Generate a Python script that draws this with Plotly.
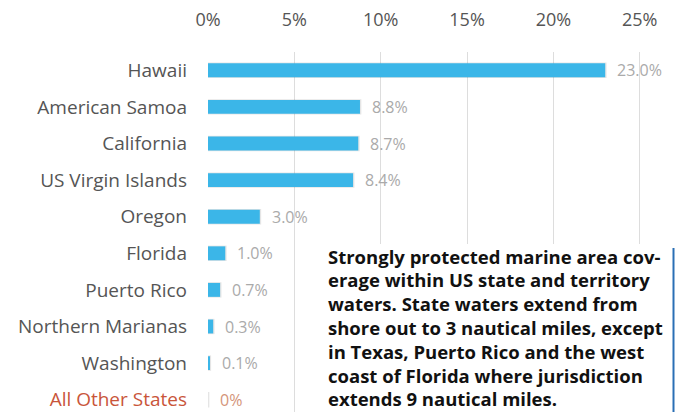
import plotly.graph_objects as go

categories = ["Hawaii", "American Samoa", "California", "US Virgin Islands", "Oregon",
              "Florida", "Puerto Rico", "Northern Marianas", "Washington", "All Other States"]
values = [23.0, 8.8, 8.7, 8.4, 3.0, 1.0, 0.7, 0.3, 0.1, 0.0]
value_labels = ["23.0%", "8.8%", "8.7%", "8.4%", "3.0%", "1.0%", "0.7%", "0.3%", "0.1%", "0%"]
tick_vals = [0, 5, 10, 15, 20, 25]
tick_text = ["0%", "5%", "10%", "15%", "20%", "25%"]
note_lines = ["Strongly protected marine area cov-",
              "erage within US state and territory",
              "waters. State waters extend from",
              "shore out to 3 nautical miles, except",
              "in Texas, Puerto Rico and the west",
              "coast of Florida where jurisdiction",
              "extends 9 nautical miles."]

BLUE = "#3bb6e8"
FONT = "Open Sans"
cat_colors = ["#555555"] * 9 + ["#c9553a"]
lab_colors = ["#aaaaaa"] * 9 + ["#d4957a"]

# page body has an 8px margin; keep the figure inside the window (no scrollbars)
OFF = 8
W, H = 683 - 2 * OFF, 420 - 2 * OFF
PLOT_TOP_PAGE = 52
ROW_PX = 36.6
PX_PER_PCT = 17.27
plot_h = H - (PLOT_TOP_PAGE - OFF)
plot_w = W - (208 - OFF)
y_top = len(categories) - 0.5
y_bottom = y_top - plot_h / ROW_PX

def paper_y(page_y):
    return 1 - (page_y - PLOT_TOP_PAGE) / plot_h

def paper_x(page_x):
    return (page_x - 208) / plot_w

fig = go.Figure()
fig.add_trace(go.Bar(y=categories, x=[v + 0.08 if v > 0 else 0.08 for v in values], orientation="h",
                     width=0.42, marker=dict(color="rgba(0,0,0,0.10)", line=dict(width=0)),
                     hoverinfo="skip", showlegend=False))
fig.add_trace(go.Bar(y=categories, x=values, orientation="h", width=0.38,
                     marker=dict(color=BLUE, line=dict(width=0)), showlegend=False))
fig.update_layout(barmode="overlay")

for c, v, t, col in zip(categories, values, value_labels, lab_colors):
    fig.add_annotation(x=v, y=c, text=t, xanchor="left", showarrow=False, xshift=10,
                       font=dict(family=FONT, size=16, color=col))

fig.add_shape(type="rect", xref="paper", yref="paper", x0=paper_x(319), x1=1,
              y0=-0.05, y1=paper_y(244),
              fillcolor="white", line=dict(width=0), layer="above")
fig.add_shape(type="line", xref="paper", yref="paper", x0=paper_x(673.5), x1=paper_x(673.5),
              y0=-0.05, y1=paper_y(248),
              line=dict(color="#2a6fb5", width=2), layer="above")
for i, line in enumerate(note_lines):
    fig.add_annotation(x=paper_x(326), xref="paper", y=paper_y(256 + 23.8 * i), yref="paper",
                       text=f"<b>{line}</b>", showarrow=False,
                       xanchor="left", yanchor="middle", align="left",
                       font=dict(family=FONT, size=18.5, color="#111111"))

fig.update_layout(
    width=W, height=H, margin=dict(l=208 - OFF, r=0, t=PLOT_TOP_PAGE - OFF, b=0),
    paper_bgcolor="white", plot_bgcolor="white",
    xaxis=dict(range=[0, plot_w / PX_PER_PCT], side="top", tickvals=tick_vals, ticktext=tick_text,
               showgrid=True, gridcolor="#dddddd", gridwidth=1, zeroline=False,
               showline=False, ticks="", ticklabelstandoff=21, automargin=False,
               tickfont=dict(family=FONT, size=18, color="#555555")),
    yaxis=dict(categoryorder="array", categoryarray=categories[::-1],
               range=[y_bottom, y_top],
               tickvals=categories,
               ticktext=[f'<span style="color:{col}">{c}</span>' for c, col in zip(categories, cat_colors)],
               showgrid=False, zeroline=False, showline=False, ticks="", ticklabelstandoff=20,
               automargin=False,
               tickfont=dict(family=FONT, size=19, color="#555555")),
    font=dict(family=FONT),
)

fig.write_html("out.html")
